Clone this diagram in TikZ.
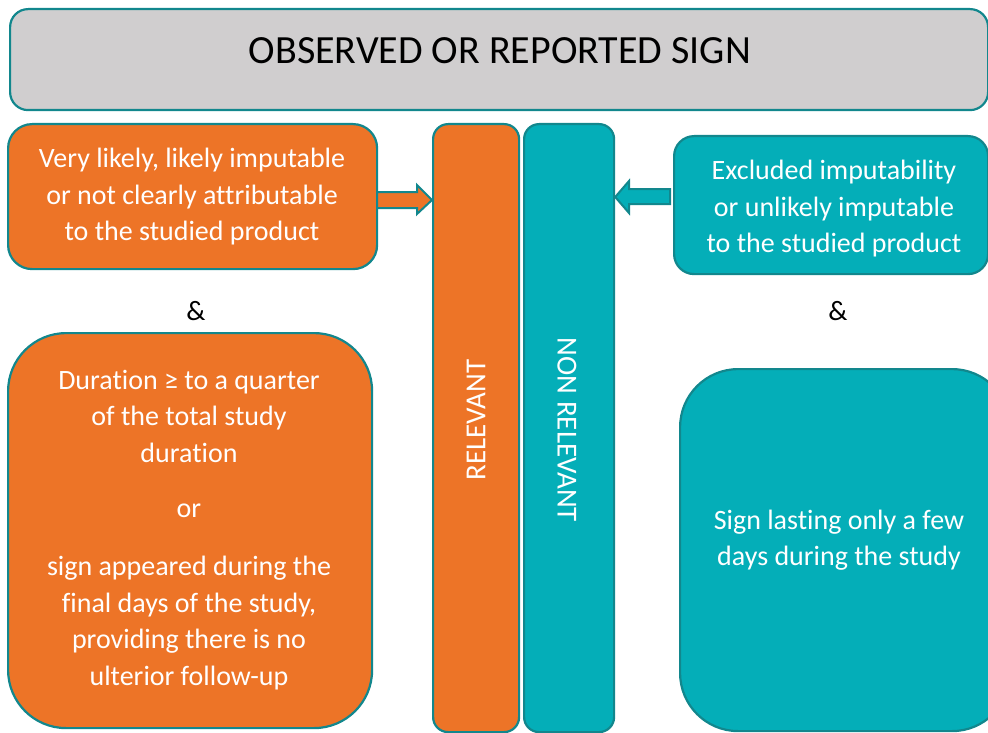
\documentclass[tikz,border=0pt]{standalone}
\usepackage{fontspec}
\setmainfont{Carlito}[RawFeature={-liga;-dlig;-clig}]
\definecolor{orng}{HTML}{ED7427}
\definecolor{tealf}{HTML}{04AEB8}
\definecolor{tealdk}{HTML}{12878D}
\definecolor{greyf}{HTML}{D0CECF}
\tikzset{
  box/.style={draw=tealdk, line width=2.2pt, inner sep=0pt, anchor=north west},
  txt/.style={text=white, align=center, font=\fontsize{28}{36.5}\selectfont},
  amp/.style={text=black, font=\fontsize{28}{34}\selectfont},
  blockarrow/.style={draw=tealdk, line width=2pt, line join=miter}
}
\begin{document}
\begin{tikzpicture}[x=1pt,y=-1pt]
\useasboundingbox (0,0) rectangle (988,733);
\clip (0,0) rectangle (988,733);
% title
\node[box, fill=greyf, rounded corners=18pt, minimum width=978pt, minimum height=101pt] (title) at (9,8) {};
\node[font=\fontsize{40}{48}\selectfont] (titletxt) at (500,51) {OBSERVED OR REPORTED SIGN};
% left boxes
\node[box, fill=orng, rounded corners=24pt, minimum width=369pt, minimum height=145pt] (lt) at (7,123) {};
\node[txt] (lttxt) at (192,197) {Very likely, likely imputable\\or not clearly attributable\\to the studied product};
\node[amp] (ampl) at (196,311) {\&};
\node[box, fill=orng, rounded corners=58pt, minimum width=364pt, minimum height=395pt] (lb) at (7,332) {};
\node[txt] (lbtxt1) at (189,416) {Duration ≥ to a quarter\\of the total study\\duration};
\node[txt] (lbtxt2) at (189,511) {or};
\node[txt] (lbtxt3) at (189,623) {sign appeared during the\\final days of the study,\\providing there is no\\ulterior follow-up};
% bars
\node[box, fill=orng, rounded corners=15pt, minimum width=86pt, minimum height=608pt] (rel) at (432,123) {};
\node[rotate=90, text=white, font=\fontsize{29}{34}\selectfont] (reltxt) at (476,420) {RELEVANT};
\node[box, fill=tealf, rounded corners=15pt, minimum width=90pt, minimum height=608pt] (nrel) at (523,123) {};
\node[rotate=-90, text=white, font=\fontsize{29}{34}\selectfont] (nreltxt) at (567,430) {NON RELEVANT};
% right boxes
\node[box, fill=tealf, rounded corners=20pt, minimum width=314pt, minimum height=138pt] (rt) at (673,135) {};
\node[txt] (rttxt) at (834,209) {Excluded imputability\\or unlikely imputable\\to the studied product};
\node[amp] (ampr) at (838,311) {\&};
\node[box, fill=tealf, rounded corners=58pt, minimum width=330pt, minimum height=362pt] (rb) at (679,368) {};
\node[txt] (rbtxt) at (839,540) {Sign lasting only a few\\days during the study};
% block arrows
\draw[blockarrow, fill=orng] (377,192) -- (417,192) -- (417,185) -- (rel.west |- 0,200) -- (417,214) -- (417,208) -- (377,208) -- cycle;
\draw[blockarrow, fill=tealf] (670,189) -- (629,189) -- (629,181) -- (nrel.east |- 0,197) -- (629,213) -- (629,204) -- (670,204) -- cycle;
\end{tikzpicture}
\end{document}
